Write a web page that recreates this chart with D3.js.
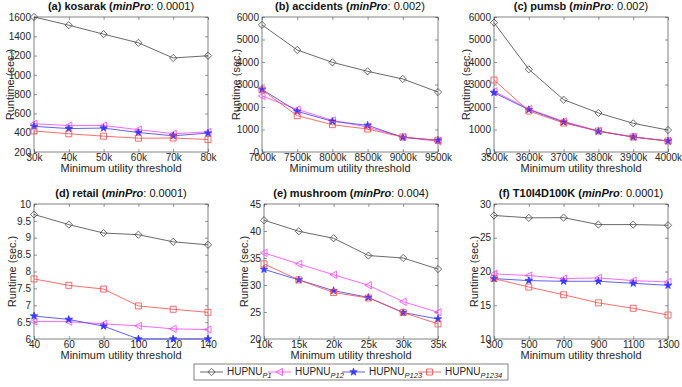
<!DOCTYPE html>
<html>
<head>
<meta charset="utf-8">
<script src="https://cdn.jsdelivr.net/npm/d3@7"></script>
<style>
body { margin: 0; background: #fff; }
svg { font-family: "Liberation Sans", Arial, sans-serif; }
</style>
</head>
<body>
<svg id="chart" width="682" height="387"></svg>
<script>
// Series shared by every panel.
const seriesBase = "HUPNU";
const seriesSubs = ["P1", "P12", "P123", "P1234"];
const seriesColors = ["#444444", "#ff40ff", "#3838ff", "#ff4848"];
const seriesMarkers = ["diamond", "triangle", "star", "square"];

// (a) kosarak
const kosarakX = ["30k", "40k", "50k", "60k", "70k", "80k"];
const kosarakP1 = [1600, 1515, 1422, 1332, 1175, 1198];
const kosarakP12 = [493, 474, 474, 432, 390, 408];
const kosarakP123 = [466, 443, 448, 402, 368, 396];
const kosarakP1234 = [418, 389, 364, 343, 345, 330];
const kosarakY = [200, 400, 600, 800, 1000, 1200, 1400, 1600];

// (b) accidents
const accidentsX = ["7000k", "7500k", "8000k", "8500k", "9000k", "9500k"];
const accidentsP1 = [5650, 4535, 3985, 3585, 3245, 2665];
const accidentsP12 = [2490, 1895, 1405, 1110, 665, 475];
const accidentsP123 = [2785, 1805, 1365, 1185, 650, 520];
const accidentsP1234 = [2760, 1615, 1215, 1020, 665, 520];
const accidentsY = [0, 1000, 2000, 3000, 4000, 5000, 6000];

// (c) pumsb
const pumsbX = ["3500k", "3600k", "3700k", "3800k", "3900k", "4000k"];
const pumsbP1 = [5750, 3675, 2325, 1735, 1275, 975];
const pumsbP12 = [2695, 1910, 1360, 935, 668, 490];
const pumsbP123 = [2635, 1880, 1330, 918, 665, 488];
const pumsbP1234 = [3200, 1822, 1290, 932, 667, 490];
const pumsbY = [0, 1000, 2000, 3000, 4000, 5000, 6000];

// (d) retail
const retailX = ["40", "60", "80", "100", "120", "140"];
const retailP1 = [9.69, 9.39, 9.14, 9.09, 8.88, 8.79];
const retailP12 = [6.52, 6.51, 6.45, 6.39, 6.30, 6.28];
const retailP123 = [6.68, 6.58, 6.38, 6.0, 6.0, 6.0];
const retailP1234 = [7.78, 7.59, 7.48, 6.98, 6.88, 6.79];
const retailY = [6, 6.5, 7, 7.5, 8, 8.5, 9, 9.5, 10];

// (e) mushroom
const mushroomX = ["10k", "15k", "20k", "25k", "30k", "35k"];
const mushroomP1 = [42.0, 39.95, 38.65, 35.45, 35.0, 32.95];
const mushroomP12 = [35.95, 33.9, 31.9, 29.95, 26.9, 24.95];
const mushroomP123 = [32.9, 30.95, 28.95, 27.7, 24.9, 23.7];
const mushroomP1234 = [33.9, 30.95, 28.6, 27.6, 24.9, 22.8];
const mushroomY = [20, 25, 30, 35, 40, 45];

// (f) T10I4D100K
const t10X = ["300", "500", "700", "900", "1100", "1300"];
const t10P1 = [28.3, 27.95, 27.98, 26.95, 26.95, 26.85];
const t10P12 = [19.65, 19.4, 18.95, 19.05, 18.65, 18.45];
const t10P123 = [18.95, 18.65, 18.55, 18.55, 18.25, 17.95];
const t10P1234 = [18.95, 17.7, 16.55, 15.35, 14.55, 13.55];
const t10Y = [10, 15, 20, 25, 30];

const panels = [
  { label: "(a) kosarak (", minPro: ": 0.0001)", x: kosarakX, y: kosarakY,
    series: [kosarakP1, kosarakP12, kosarakP123, kosarakP1234], left: 34, top: 17, w: 174, ylab: 10 },
  { label: "(b) accidents (", minPro: ": 0.002)", x: accidentsX, y: accidentsY,
    series: [accidentsP1, accidentsP12, accidentsP123, accidentsP1234], left: 262, top: 17, w: 176, ylab: 236 },
  { label: "(c) pumsb (", minPro: ": 0.002)", x: pumsbX, y: pumsbY,
    series: [pumsbP1, pumsbP12, pumsbP123, pumsbP1234], left: 494, top: 17, w: 174, ylab: 466 },
  { label: "(d) retail (", minPro: ": 0.0001)", x: retailX, y: retailY,
    series: [retailP1, retailP12, retailP123, retailP1234], left: 34, top: 204, w: 174, ylab: 12 },
  { label: "(e) mushroom (", minPro: ": 0.004)", x: mushroomX, y: mushroomY,
    series: [mushroomP1, mushroomP12, mushroomP123, mushroomP1234], left: 264, top: 204, w: 174, ylab: 244 },
  { label: "(f) T10I4D100K (", minPro: ": 0.0001)", x: t10X, y: t10Y,
    series: [t10P1, t10P12, t10P123, t10P1234], left: 494, top: 204, w: 174, ylab: 474 }
];

const plotH = 135;
const axisColor = "#4d4d4d";
const textColor = "#262626";
const svg = d3.select("#chart");

// Marker shapes, MATLAB style.
function markerPath(kind) {
  if (kind === "diamond") return "M0,-3.6L3.6,0L0,3.6L-3.6,0Z";
  if (kind === "triangle") return "M-3.6,0L3,-3.6L3,3.6Z";
  if (kind === "square") return "M-3,-3H3V3H-3Z";
  return d3.symbol(d3.symbolStar, 17)();
}

function drawMarker(g, kind, color, x, y) {
  g.append("path")
    .attr("d", markerPath(kind))
    .attr("transform", `translate(${x},${y})`)
    .attr("fill", kind === "star" ? color : "none")
    .attr("stroke", color)
    .attr("stroke-width", 0.8);
}

panels.forEach(p => {
  const g = svg.append("g").attr("transform", `translate(${p.left},${p.top})`);

  const x = d3.scalePoint().domain(p.x).range([0, p.w]).padding(0);
  const y = d3.scaleLinear().domain(d3.extent(p.y)).range([plotH, 0]);

  // Inward ticks on all four sides.
  g.append("g").attr("transform", `translate(0,${plotH})`)
    .call(d3.axisBottom(x).tickSizeInner(-3).tickSizeOuter(0).tickPadding(2));
  g.append("g")
    .call(d3.axisTop(x).tickSizeInner(-3).tickSizeOuter(0).tickFormat(""));
  g.append("g")
    .call(d3.axisLeft(y).tickValues(p.y).tickFormat(d => String(d)).tickSizeInner(-3).tickSizeOuter(0).tickPadding(3));
  g.append("g").attr("transform", `translate(${p.w},0)`)
    .call(d3.axisRight(y).tickValues(p.y).tickFormat("").tickSizeInner(-3).tickSizeOuter(0));

  g.selectAll(".domain").remove();
  g.selectAll(".tick line").attr("stroke", axisColor).attr("stroke-width", 0.6);
  g.selectAll(".tick text").attr("fill", textColor).style("font-size", "10px")
    .style("font-family", "Liberation Sans, Arial, sans-serif");

  g.append("rect").attr("width", p.w).attr("height", plotH)
    .attr("fill", "none").attr("stroke", axisColor).attr("stroke-width", 0.7);

  // Series lines and markers.
  const line = d3.line().x((d, i) => x(p.x[i])).y(d => y(d));
  p.series.forEach((vals, s) => {
    g.append("path").datum(vals)
      .attr("d", line)
      .attr("fill", "none")
      .attr("stroke", seriesColors[s])
      .attr("stroke-width", 0.8);
    vals.forEach((v, i) => drawMarker(g, seriesMarkers[s], seriesColors[s], x(p.x[i]), y(v)));
  });

  // Title.
  const title = g.append("text")
    .attr("x", p.w / 2).attr("y", -7)
    .attr("text-anchor", "middle")
    .style("font-size", "11px")
    .attr("fill", "#111");
  title.append("tspan").attr("font-weight", "bold").text(p.label);
  title.append("tspan").attr("font-weight", "bold").attr("font-style", "italic").text("minPro");
  title.append("tspan").text(p.minPro);

  // Axis labels.
  g.append("text")
    .attr("x", p.w / 2).attr("y", plotH + 20)
    .attr("text-anchor", "middle")
    .style("font-size", "11px").attr("fill", textColor)
    .text("Minimum utility threshold");

  g.append("text")
    .attr("transform", `translate(${p.ylab - p.left},${plotH / 2}) rotate(-90)`)
    .attr("text-anchor", "middle")
    .attr("dy", "0.35em")
    .style("font-size", "11px").attr("fill", textColor)
    .text("Runtime (sec.)");
});

// Legend.
const legend = svg.append("g");
legend.append("rect")
  .attr("x", 194).attr("y", 364).attr("width", 314).attr("height", 16)
  .attr("fill", "#fff").attr("stroke", axisColor).attr("stroke-width", 0.7);
const legendX = [200, 268, 342, 418];
seriesSubs.forEach((sub, s) => {
  const lx = legendX[s];
  legend.append("line")
    .attr("x1", lx).attr("x2", lx + 23).attr("y1", 372).attr("y2", 372)
    .attr("stroke", seriesColors[s]).attr("stroke-width", 0.8);
  drawMarker(legend, seriesMarkers[s], seriesColors[s], lx + 11.5, 372);
  const t = legend.append("text")
    .attr("x", lx + 27).attr("y", 375)
    .style("font-size", "10px").attr("fill", textColor);
  t.append("tspan").text(seriesBase);
  t.append("tspan").attr("dy", 3).attr("font-style", "italic").style("font-size", "7.5px").text(sub);
});
</script>
</body>
</html>
